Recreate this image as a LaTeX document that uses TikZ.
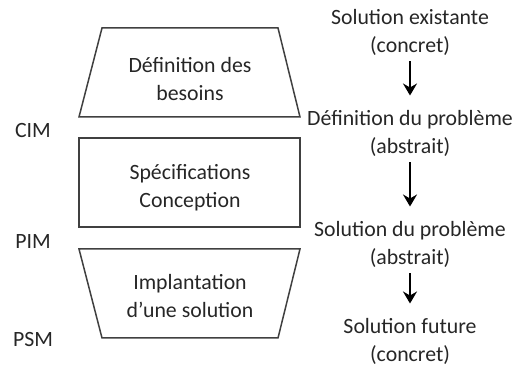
\documentclass[tikz,border=0pt]{standalone}
\usepackage{fontspec}
\setmainfont{Carlito}
\usetikzlibrary{arrows.meta,calc}
\usetikzlibrary{positioning}

\begin{document}
\begin{tikzpicture}[x=0.5pt,y=0.5pt,
  forme/.style={draw=black!75,line width=0.75pt,line join=miter},
  texte/.style={align=center,text=black!85,font=\fontsize{10.9}{14}\selectfont,inner sep=1pt},
  fleche/.style={line width=1.1pt,-{Stealth[length=6pt,width=7pt,inset=2pt]},shorten <=2pt,shorten >=6pt}]
\useasboundingbox (0,0) rectangle (513,367);

% les trois etapes
\draw [forme] (102,339) -- (278,339) -- (300,250) -- (79,250) -- cycle;
\draw [forme] (79,229) rectangle (300,140);
\draw [forme] (79,118) -- (300,118) -- (278,29) -- (102,29) -- cycle;
\draw (190,288) node [texte] (besoins) {Définition des\\besoins};
\draw (190,179) node [texte] (specif) {Spécifications\\Conception};
\draw (190,71) node [texte] (implant) {Implantation\\d’une solution};

% niveaux
\draw (33,236) node [texte] (cim) {CIM};
\draw (33,125) node [texte] (pim) {PIM};
\draw (33,27) node [texte] (psm) {PSM};

% solutions
\draw (410,335) node [texte] (existante) {Solution existante\\(concret)};
\draw (410,234) node [texte] (defprob) {Définition du problème\\(abstrait)};
\draw (410,123) node [texte] (solprob) {Solution du problème\\(abstrait)};
\draw (410,26) node [texte] (future) {Solution future\\(concret)};
\draw [fleche] (existante) -- (defprob);
\draw [fleche] (defprob) -- (solprob);
\draw [fleche] (solprob) -- (future);
\end{tikzpicture}
\end{document}
